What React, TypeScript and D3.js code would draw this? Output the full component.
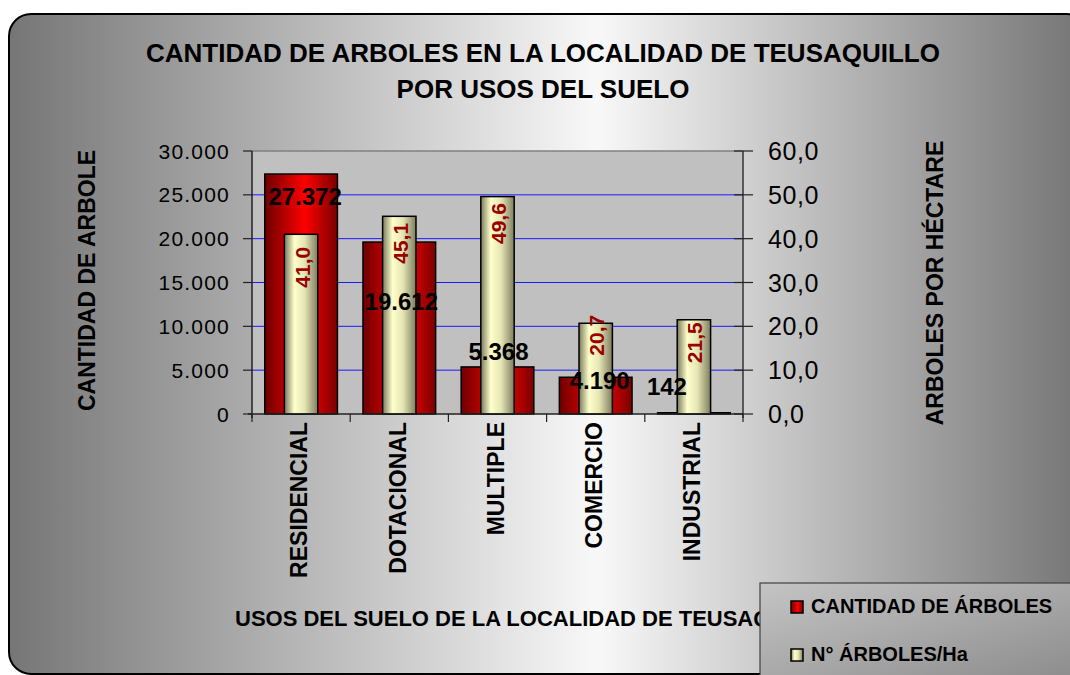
import React from "react";
import * as d3 from "d3";

const categories = ["RESIDENCIAL", "DOTACIONAL", "MULTIPLE", "COMERCIO", "INDUSTRIAL"];
const arboles = [27372, 19612, 5368, 4190, 142];
const arbolesHa = [41.0, 45.1, 49.6, 20.7, 21.5];
const leftTicks = [0, 5000, 10000, 15000, 20000, 25000, 30000];
const rightTicks = [0, 10, 20, 30, 40, 50, 60];
const arbolesLabelDx = [4, 2, 1, 4, -27];
const arbolesLabelDy = [31, 68, -7, 12, -18];
const haLabelDy = [33, 27, 27, 12, 23];
const titleLines = ["CANTIDAD DE ARBOLES EN LA LOCALIDAD DE TEUSAQUILLO", "POR USOS DEL SUELO"];
const legendLabels = ["CANTIDAD DE ÁRBOLES", "N° ÁRBOLES/Ha"];

const locale = d3.formatLocale({ decimal: ",", thousands: ".", grouping: [3], currency: ["$", ""] });
const fmtInt = locale.format(",.0f");
const fmtDec = locale.format(",.1f");

const FONT = "'Liberation Sans', Arial, sans-serif";

export default function App() {
  const left = 252, right = 743, top = 151, bottom = 414;
  const x = d3.scaleBand<string>().domain(categories).range([left, right]).paddingInner(0).paddingOuter(0);
  const yL = d3.scaleLinear().domain([0, 30000]).range([bottom, top]);
  const yR = d3.scaleLinear().domain([0, 60]).range([bottom, top]);
  const bw = x.bandwidth();
  const redW = bw * 0.74;
  const yelW = bw * 0.34;

  return (
    <svg width={1070} height={675} style={{ position: "absolute", left: 0, top: 0 }} fontFamily={FONT}>
      <defs>
        <linearGradient id="bg" x1="9" x2="1079" y1="0" y2="0" gradientUnits="userSpaceOnUse">
          <stop offset="0" stopColor="#767676" />
          <stop offset="0.55" stopColor="#f8f8f8" />
          <stop offset="1" stopColor="#767676" />
        </linearGradient>
        <linearGradient id="red" x1="0" x2="1" y1="0" y2="0">
          <stop offset="0" stopColor="#6e0000" />
          <stop offset="0.55" stopColor="#ff0000" />
          <stop offset="1" stopColor="#7a0000" />
        </linearGradient>
        <linearGradient id="yel" x1="0" x2="1" y1="0" y2="0">
          <stop offset="0" stopColor="#7a7a5c" />
          <stop offset="0.3" stopColor="#ffffcc" />
          <stop offset="0.6" stopColor="#e6e6b4" />
          <stop offset="1" stopColor="#7e7e60" />
        </linearGradient>
        <linearGradient id="leg" x1="0" x2="1" y1="0" y2="1">
          <stop offset="0" stopColor="#c4c4c4" />
          <stop offset="1" stopColor="#8a8a8a" />
        </linearGradient>
      </defs>

      <rect x={9} y={14} width={1080} height={660} rx={22} ry={22} fill="url(#bg)" stroke="#000" strokeWidth={2} />

      {titleLines.map((t, i) => (
        <text key={t} x={543} y={62 + i * 36} textAnchor="middle" fontSize={26} fontWeight="bold" fill="#000">{t}</text>
      ))}

      {/* plot area */}
      <rect x={left} y={top} width={right - left} height={bottom - top} fill="#c0c0c0" />
      {leftTicks.slice(1, -1).map((t) => (
        <line key={t} x1={left} x2={right} y1={yL(t)} y2={yL(t)} stroke="#1a1aff" strokeWidth={1} />
      ))}
      <line x1={left} x2={right} y1={top} y2={top} stroke="#808080" strokeWidth={1.5} />

      {/* red bars */}
      {categories.map((c, i) => (
        <rect key={"r" + c} x={x(c)! + bw / 2 - redW / 2} y={yL(arboles[i])} width={redW} height={bottom - yL(arboles[i])}
          fill="url(#red)" stroke="#000" strokeWidth={1.5} />
      ))}
      {/* yellow bars */}
      {categories.map((c, i) => (
        <rect key={"y" + c} x={x(c)! + bw / 2 - yelW / 2} y={yR(arbolesHa[i])} width={yelW} height={bottom - yR(arbolesHa[i])}
          fill="url(#yel)" stroke="#000" strokeWidth={1.5} />
      ))}

      {/* axes */}
      <line x1={left} x2={left} y1={top} y2={bottom + 4} stroke="#222" strokeWidth={1.5} />
      <line x1={right} x2={right} y1={top} y2={bottom + 4} stroke="#333" strokeWidth={1.5} />
      <line x1={left - 4} x2={right} y1={bottom} y2={bottom} stroke="#222" strokeWidth={1.5} />
      {leftTicks.map((t) => (
        <g key={"lt" + t}>
          <line x1={left - 9} x2={left} y1={yL(t)} y2={yL(t)} stroke="#222" strokeWidth={1.2} />
          <text x={230} y={yL(t)} dy="0.36em" textAnchor="end" fontSize={21} letterSpacing={1.2} fill="#000">{fmtInt(t)}</text>
        </g>
      ))}
      {rightTicks.map((t) => (
        <g key={"rt" + t}>
          <line x1={right - 9} x2={right + 10} y1={yR(t)} y2={yR(t)} stroke="#222" strokeWidth={1.2} />
          <text x={768} y={yR(t)} dy="0.36em" textAnchor="start" fontSize={25} letterSpacing={0.6} fill="#000">{fmtDec(t)}</text>
        </g>
      ))}
      {categories.map((c, i) => (
        <line key={"xt" + c} x1={left + bw * i} x2={left + bw * i} y1={bottom} y2={bottom + 8} stroke="#222" strokeWidth={1.2} />
      ))}
      <line x1={right} x2={right} y1={bottom} y2={bottom + 8} stroke="#222" strokeWidth={1.2} />

      {/* category labels */}
      {categories.map((c) => (
        <text key={"cl" + c} transform={`translate(${x(c)! + bw / 2 - 2},${422}) rotate(-90)`} dy="0.36em" textAnchor="end"
          fontSize={23} fontWeight="bold" fill="#000">{c}</text>
      ))}

      {/* value labels */}
      {categories.map((c, i) => (
        <text key={"vl" + c} x={x(c)! + bw / 2 + arbolesLabelDx[i]} y={yL(arboles[i]) + arbolesLabelDy[i]} textAnchor="middle"
          fontSize={24} fontWeight="bold" fill="#000">{fmtInt(arboles[i])}</text>
      ))}
      {categories.map((c, i) => (
        <text key={"hl" + c} transform={`translate(${x(c)! + bw / 2 + 1},${yR(arbolesHa[i]) + haLabelDy[i]}) rotate(-90)`} dy="0.36em"
          textAnchor="middle" fontSize={21} fontWeight="bold" fill="#990000">{fmtDec(arbolesHa[i])}</text>
      ))}

      {/* axis titles */}
      <text transform={`translate(87,${(top + bottom) / 2 - 2}) rotate(-90)`} dy="0.36em" textAnchor="middle" fontSize={23} fontWeight="bold" fill="#000">
        CANTIDAD DE ARBOLE
      </text>
      <text transform={`translate(935,${283}) rotate(-90)`} dy="0.36em" textAnchor="middle" fontSize={23} fontWeight="bold" fill="#000">
        ARBOLES POR HÉCTARE
      </text>
      <text x={235} y={626} fontSize={22} fontWeight="bold" fill="#000">USOS DEL SUELO DE LA LOCALIDAD DE TEUSAQUILLO</text>

      {/* legend */}
      <rect x={760} y={583} width={330} height={100} fill="url(#leg)" stroke="#404040" strokeWidth={1.2} />
      {legendLabels.map((l, i) => (
        <g key={l}>
          <rect x={791} y={601 + i * 48} width={12} height={12} fill={i === 0 ? "url(#red)" : "url(#yel)"} stroke="#000" strokeWidth={1.5} />
          <text x={811} y={613 + i * 48} fontSize={20} fontWeight="bold" fill="#000">{l}</text>
        </g>
      ))}
    </svg>
  );
}
